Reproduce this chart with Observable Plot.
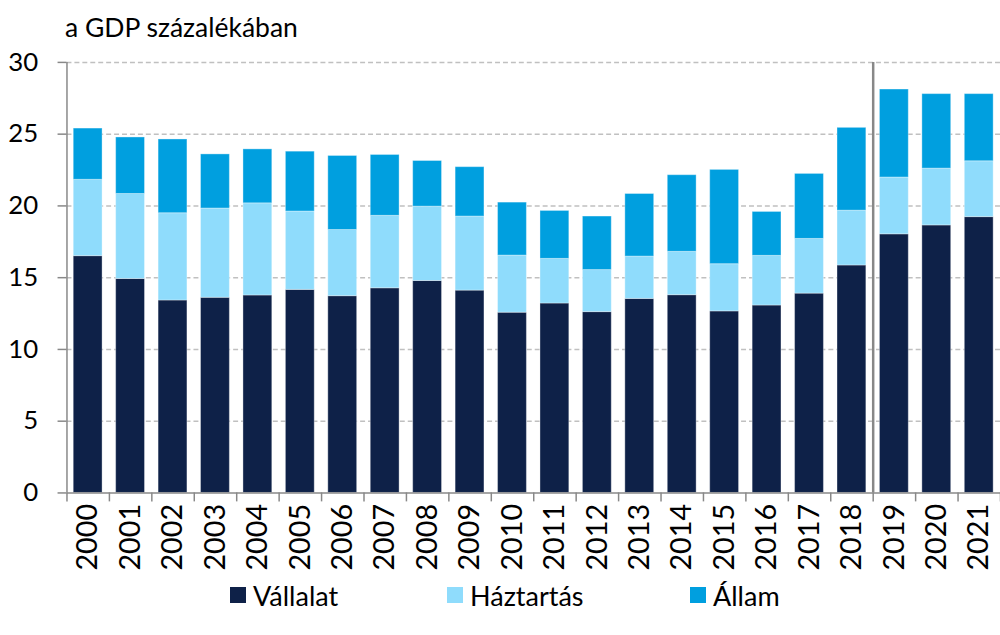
<!DOCTYPE html>
<html><head><meta charset="utf-8">
<script src="https://cdn.jsdelivr.net/npm/d3@7"></script>
<script src="https://cdn.jsdelivr.net/npm/@observablehq/plot@0.6"></script>
<style>
html,body{margin:0;padding:0;overflow:hidden;background:#fff;width:1000px;height:635px}
#wrap{position:relative;width:1000px;height:635px;overflow:hidden;font-family:Lato,"Open Sans",sans-serif;color:#000}
#title{position:absolute;left:65px;top:12px;font-size:26.5px;line-height:30px}
#chart{position:absolute;left:0;top:50px}
#legend{position:absolute;top:580px;left:0;width:1000px;height:30px;font-size:27px}
.item{position:absolute;top:0;display:flex;align-items:center;height:30px;white-space:nowrap}
.sw{width:16px;height:16px;margin-right:7px}
</style></head>
<body>
<div id="wrap">
  <div id="title">a GDP százalékában</div>
  <div id="chart"></div>
  <div id="legend"></div>
</div>
<script>
const years = ["2000","2001","2002","2003","2004","2005","2006","2007","2008","2009","2010","2011","2012","2013","2014","2015","2016","2017","2018","2019","2020","2021"];
const vallalat  = [16.50,14.91,13.41,13.60,13.76,14.15,13.71,14.26,14.77,14.10,12.56,13.20,12.60,13.52,13.78,12.65,13.06,13.89,15.85,18.02,18.64,19.22];
const haztartas = [5.32,5.92,6.08,6.22,6.42,5.46,4.61,5.05,5.18,5.16,3.98,3.11,2.93,2.95,3.02,3.29,3.46,3.81,3.82,3.96,3.96,3.89];
const allam     = [3.57,3.94,5.14,3.77,3.76,4.17,5.16,4.24,3.18,3.44,3.69,3.34,3.73,4.36,5.34,6.57,3.06,4.53,5.77,6.13,5.19,4.68];
const seriesNames = ["Vállalat","Háztartás","Állam"];
const seriesColors = ["#0e2148","#8fdcfc","#009fdf"];
const yTicks = [0,5,10,15,20,25,30];
const forecastStart = 19; // index of 2019

const seriesValues = [vallalat, haztartas, allam];
const data = years.flatMap((yr, i) => seriesNames.map((s, k) => ({i, year: yr, series: s, value: seriesValues[k][i]})));

const plot = Plot.plot({
  width: 1008, height: 530,
  marginLeft: 67, marginRight: 0, marginTop: 12, marginBottom: 84,
  style: {fontFamily: "Lato, 'Open Sans', sans-serif", fontSize: "25px", color: "#000", background: "transparent", overflow: "visible"},
  x: {domain: [0, years.length]},
  y: {domain: [0, 30]},
  color: {domain: seriesNames, range: seriesColors},
  marks: [
    Plot.ruleY(yTicks.filter(d => d > 0), {stroke: "#c0c0c0", strokeWidth: 1.5, strokeDasharray: "5,3"}),
    Plot.rectY(data, {x1: "i", x2: d => d.i + 1, y: "value", fill: "series", order: seriesNames,
      insetLeft: 6.8, insetRight: 6.9, stroke: "#ffffff", strokeOpacity: 0.35, strokeWidth: 1}),
    Plot.ruleY([0], {stroke: "#888", strokeWidth: 1.5}),
    Plot.ruleX([0], {y1: 0, y2: 30, stroke: "#888", strokeWidth: 1.5}),
    Plot.ruleX([forecastStart], {y1: 0, y2: 30, stroke: "#888", strokeWidth: 2.5}),
    Plot.axisX({ticks: d3.range(0, years.length + 1), tickSize: 9, tickFormat: () => "", stroke: "#888", strokeWidth: 1.5, label: null}),
    Plot.axisY({ticks: yTicks, tickSize: 9, tickPadding: 20, stroke: "#888", strokeWidth: 1.5, fontSize: 26, label: null}),
    Plot.text(years, {x: (d, i) => i + 0.5, y: 0, text: d => d, rotate: -90, textAnchor: "end", dy: 11, fontSize: 29, fill: "#000"})
  ]
});
document.getElementById("chart").appendChild(plot);

const legend = document.getElementById("legend");
const legendLeft = [230, 447, 690];
seriesNames.forEach((s, k) => {
  const it = document.createElement("div");
  it.className = "item";
  it.style.left = legendLeft[k] + "px";
  it.innerHTML = `<span class="sw" style="background:${seriesColors[k]}"></span><span>${s}</span>`;
  legend.appendChild(it);
});
</script>
</body></html>
